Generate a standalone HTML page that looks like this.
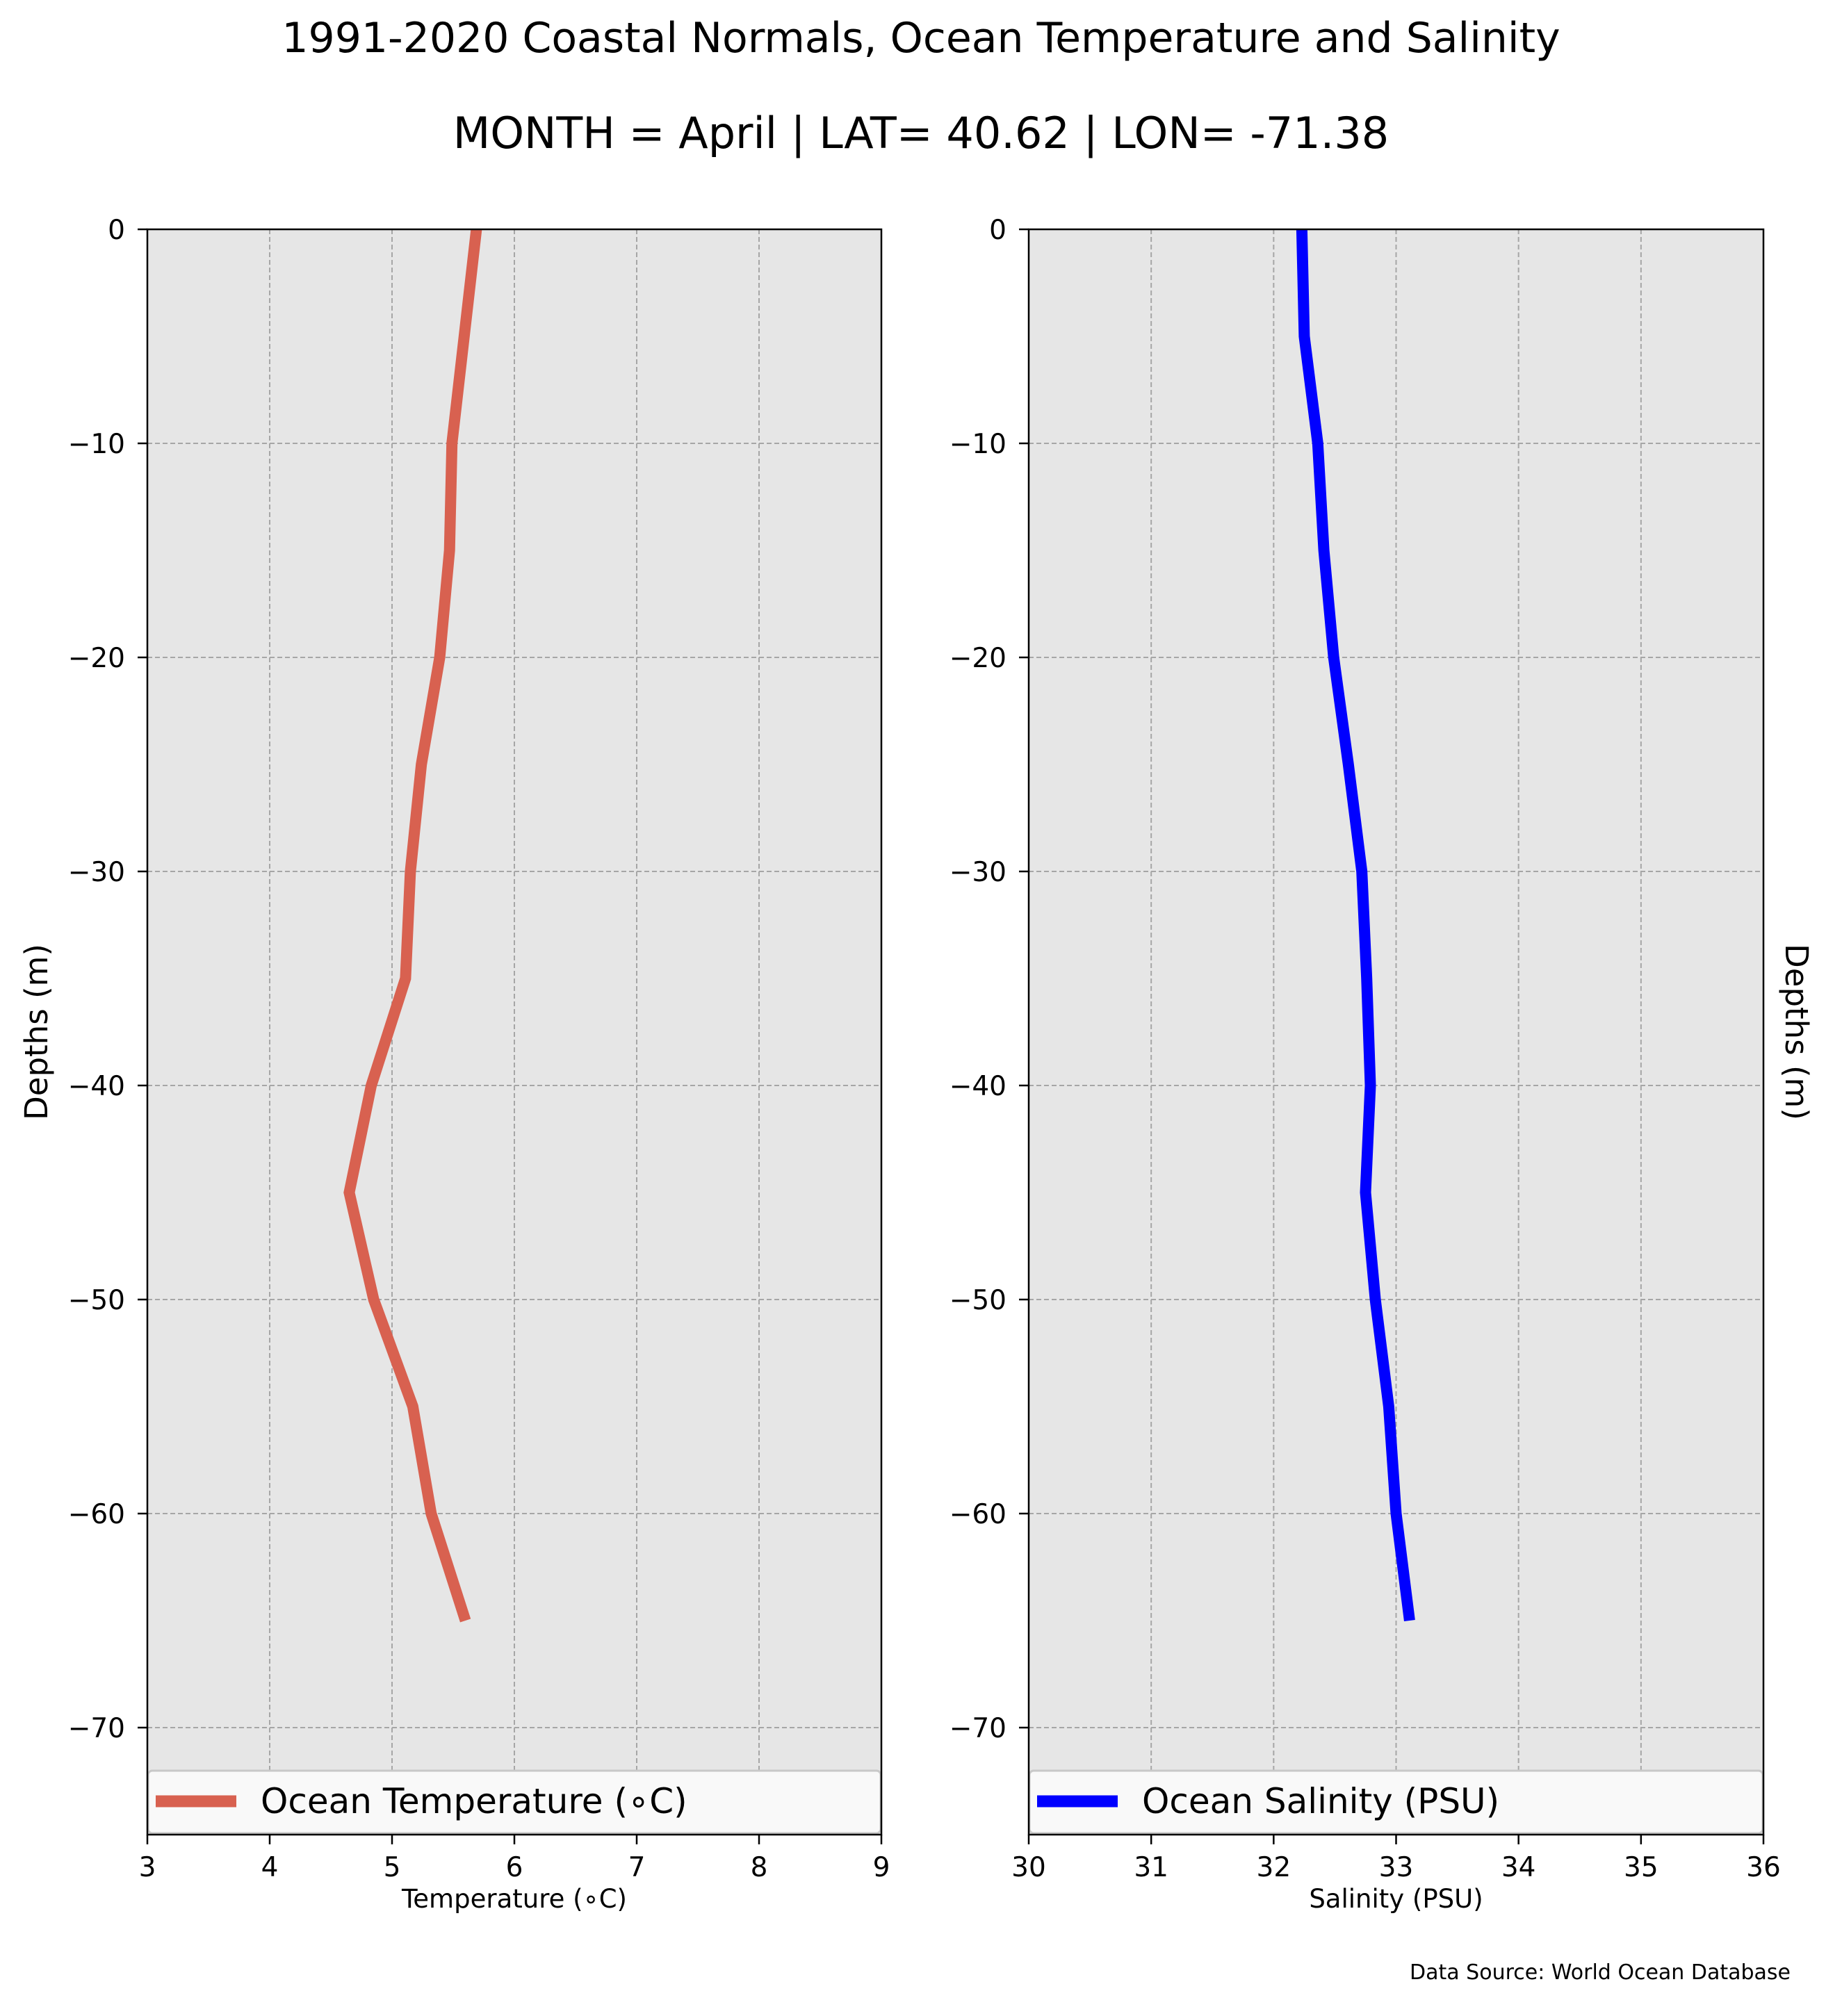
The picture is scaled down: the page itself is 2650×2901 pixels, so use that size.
<!DOCTYPE html>
<html><head><meta charset="utf-8"><style>
body{margin:0;background:#fff;}
svg{display:block;font-family:"DejaVu Sans","Liberation Sans",sans-serif;}
</style></head><body>
<svg id="chart" width="2650" height="2901" viewBox="0 0 2650 2901" xmlns="http://www.w3.org/2000/svg">
<text x="1325" y="75" font-size="60" text-anchor="middle">1991-2020 Coastal Normals, Ocean Temperature and Salinity</text>
<text x="1325" y="213" font-size="62" text-anchor="middle">MONTH = April | LAT= 40.62 | LON= -71.38</text>
<g id="left"></g>
<g id="right"></g>
<text x="2576" y="2848" font-size="30" text-anchor="end">Data Source: World Ocean Database</text>
</svg>
<script>
const depths = [0,-5,-10,-15,-20,-25,-30,-35,-40,-45,-50,-55,-60,-65];
const temperature = [5.69,5.59,5.49,5.47,5.39,5.24,5.15,5.11,4.83,4.65,4.85,5.17,5.32,5.60];
const salinity = [32.23,32.25,32.36,32.41,32.49,32.61,32.72,32.76,32.79,32.75,32.83,32.94,33.00,33.11];
const yTicks = [0,-10,-20,-30,-40,-50,-60,-70];
const tempTicks = [3,4,5,6,7,8,9];
const salTicks = [30,31,32,33,34,35,36];

const NS='http://www.w3.org/2000/svg';
const TOP=330,BOT=2640,Y0=0,Y1=-75;
function yScale(v){return TOP+(Y0-v)/(Y0-Y1)*(BOT-TOP);}
function mk(tag,attrs,parent){const e=document.createElementNS(NS,tag);for(const k in attrs)e.setAttribute(k,attrs[k]);parent.appendChild(e);return e;}

function panel(g,L,R,xTicks,vals,color,legendText,xlabel,ylabelSide){
  const xmin=xTicks[0],xmax=xTicks[xTicks.length-1];
  const xs=v=>L+(v-xmin)/(xmax-xmin)*(R-L);
  const bg=mk('rect',{x:L,y:TOP,width:R-L,height:BOT-TOP,fill:'#e6e6e6'},g);
  
  
  xTicks.forEach(t=>{
    const x=xs(t);
    const gl=mk('line',{x1:x,x2:x,y1:TOP,y2:BOT,stroke:'#a6a6a6','stroke-width':2,'stroke-dasharray':'7,4'},g);
    
    
    const tk=mk('line',{x1:x,x2:x,y1:BOT,y2:BOT+14,stroke:'#000','stroke-width':2.5},g);
    
    
    const tl=mk('text',{x:x,y:2700,'font-size':39,'text-anchor':'middle'},g);
    tl.textContent=t;
    
    
  });
  yTicks.forEach(t=>{
    const y=yScale(t);
    const gl=mk('line',{x1:L,x2:R,y1:y,y2:y,stroke:'#a6a6a6','stroke-width':2,'stroke-dasharray':'7,4'},g);
    
    
    const tk=mk('line',{x1:L-14,x2:L,y1:y,y2:y,stroke:'#000','stroke-width':2.5},g);
    
    
    const tl=mk('text',{x:L-32,y:y+14,'font-size':39,'text-anchor':'end'},g);
    tl.textContent=t===0?'0':'\u2212'+Math.abs(t);
    
    
  });
  const pts=vals.map((v,i)=>xs(v).toFixed(1)+','+yScale(depths[i]).toFixed(1)).join(' ');
  const ln=mk('polyline',{points:pts,fill:'none',stroke:color,'stroke-width':16,'stroke-linejoin':'miter'},g);
  
  
  const lg=mk('rect',{x:L+1,y:2548,width:R-L-2,height:90,rx:6,fill:'#f9f9f9',stroke:'#c8c8c8','stroke-width':3},g);
  
  
  const ll=mk('line',{x1:L+12,x2:L+128,y1:2592,y2:2592,stroke:color,'stroke-width':17},g);
  
  
  const lt=mk('text',{x:L+163,y:2609,'font-size':50},g);
  lt.textContent=legendText;
  
  
  const sp=mk('rect',{x:L,y:TOP,width:R-L,height:BOT-TOP,fill:'none',stroke:'#000','stroke-width':2.5},g);
  
  
  const xl=mk('text',{x:(L+R)/2,y:2745,'font-size':37,'text-anchor':'middle'},g);
  xl.textContent=xlabel;
  
  
  const ly=(TOP+BOT)/2;
  const yl=mk('text',{x:0,y:0,'font-size':45,'text-anchor':'middle'},g);
  yl.textContent='Depths (m)';
  if(ylabelSide==='left') yl.setAttribute('transform','translate(68,'+ly+') rotate(-90)');
  else yl.setAttribute('transform','translate(2569,'+ly+') rotate(90)');
  
  
}
panel(document.getElementById('left'),212,1268,tempTicks,temperature,'#d86150','Ocean Temperature (\u2218C)','Temperature (\u2218C)','left');
panel(document.getElementById('right'),1480,2537,salTicks,salinity,'#0000ff','Ocean Salinity (PSU)','Salinity (PSU)','right');
</script>
</body></html>
